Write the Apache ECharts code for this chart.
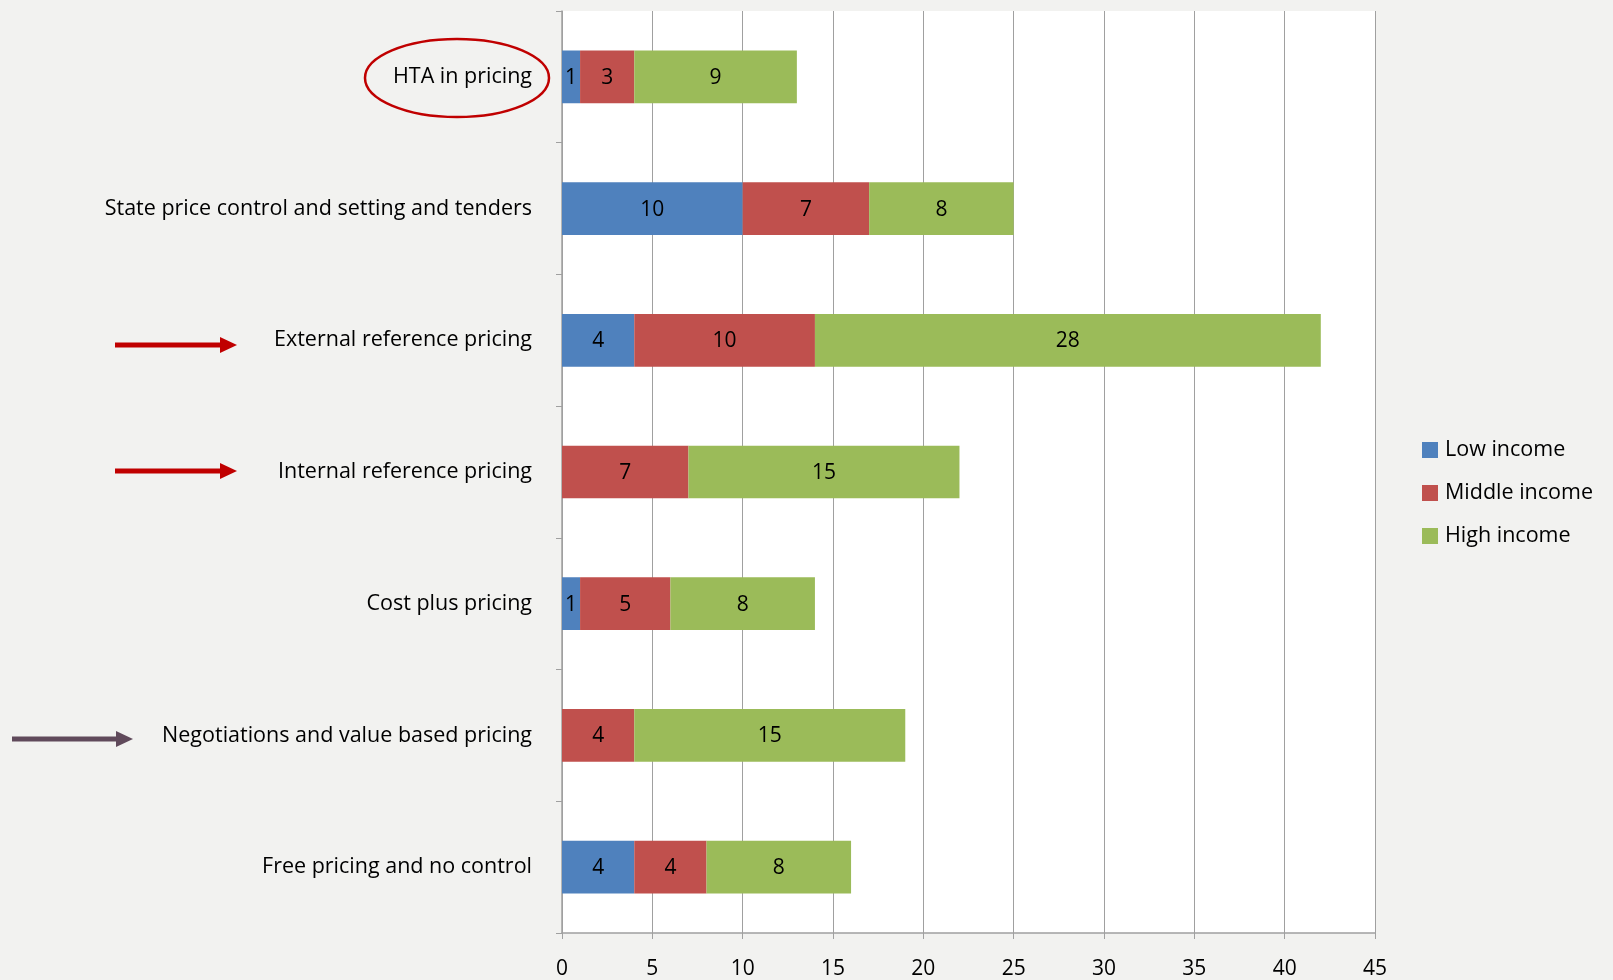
<!DOCTYPE html>
<html>
<head>
<meta charset="utf-8">
<script src="https://cdn.jsdelivr.net/npm/echarts@6/dist/echarts.min.js"></script>
<style>
html,body{margin:0;padding:0;background:#F2F2F0;}
#chart{width:1613px;height:980px;}
</style>
</head>
<body>
<div id="chart"></div>
<script>
// Categories listed bottom to top
var categories = [
  "Free pricing and no control",
  "Negotiations and value based pricing",
  "Cost plus pricing",
  "Internal reference pricing",
  "External reference pricing",
  "State price control and setting and tenders",
  "HTA in pricing"
];
var lowIncome    = [4, 0, 1, 0, 4, 10, 1];
var middleIncome = [4, 4, 5, 7, 10, 7, 3];
var highIncome   = [8, 15, 8, 15, 28, 8, 9];
var seriesNames = ["Low income", "Middle income", "High income"];
var xTicks = [0, 5, 10, 15, 20, 25, 30, 35, 40, 45];

var FONT = "Open Sans";
var chart = echarts.init(document.getElementById('chart'));
function mk(name, data, color) {
  return {
    name: name, type: 'bar', stack: 'total', data: data,
    barCategoryGap: '60%',
    itemStyle: { color: color },
    label: {
      show: true, position: 'inside', color: '#000', fontFamily: FONT, fontSize: 21,
      offset: [0, 1],
      formatter: function (p) { return p.value ? String(p.value) : ''; }
    }
  };
}
chart.setOption({
  backgroundColor: '#F2F2F0',
  animation: false,
  textStyle: { fontFamily: FONT },
  grid: { left: 562, right: 238, top: 11, bottom: 46, show: true, backgroundColor: '#FFFFFF', borderWidth: 0, containLabel: false },
  legend: {
    orient: 'vertical', left: 1417, top: 434, itemGap: 21, itemWidth: 16, itemHeight: 16,
    icon: 'rect', data: seriesNames,
    textStyle: { fontFamily: FONT, fontSize: 21.5, lineHeight: 22, color: '#000', padding: [0, 0, 0, 2] }
  },
  xAxis: {
    type: 'value', min: xTicks[0], max: xTicks[xTicks.length - 1], interval: 5,
    axisLine: { show: true, lineStyle: { color: '#A0A0A0', width: 1.5 } },
    axisTick: { show: true, length: 6, lineStyle: { color: '#A0A0A0' } },
    splitLine: { show: true, lineStyle: { color: '#A0A0A0', width: 1 } },
    axisLabel: { color: '#000', fontFamily: FONT, fontSize: 21, margin: 26 }
  },
  yAxis: {
    type: 'category', data: categories,
    axisLine: { show: true, lineStyle: { color: '#A0A0A0', width: 1.5 } },
    axisTick: { show: true, length: 6, inside: false, lineStyle: { color: '#A0A0A0' } },
    axisLabel: { color: '#000', fontFamily: FONT, fontSize: 21.5, margin: 30 }
  },
  series: [
    mk(seriesNames[0], lowIncome, '#4F81BD'),
    mk(seriesNames[1], middleIncome, '#C0504D'),
    mk(seriesNames[2], highIncome, '#9BBB59')
  ],
  graphic: [
    { type: 'ellipse', shape: { cx: 457, cy: 78, rx: 92, ry: 39 }, style: { fill: 'none', stroke: '#C00000', lineWidth: 2.5 } },
    { type: 'line', shape: { x1: 115, y1: 345, x2: 222, y2: 345 }, style: { stroke: '#C00000', lineWidth: 5 } },
    { type: 'polygon', shape: { points: [[220, 337], [237, 345], [220, 353]] }, style: { fill: '#C00000' } },
    { type: 'line', shape: { x1: 115, y1: 471, x2: 222, y2: 471 }, style: { stroke: '#C00000', lineWidth: 5 } },
    { type: 'polygon', shape: { points: [[220, 463], [237, 471], [220, 479]] }, style: { fill: '#C00000' } },
    { type: 'line', shape: { x1: 12, y1: 739, x2: 118, y2: 739 }, style: { stroke: '#604A5B', lineWidth: 5 } },
    { type: 'polygon', shape: { points: [[116, 731], [133, 739], [116, 747]] }, style: { fill: '#604A5B' } }
  ]
});
</script>
</body>
</html>
